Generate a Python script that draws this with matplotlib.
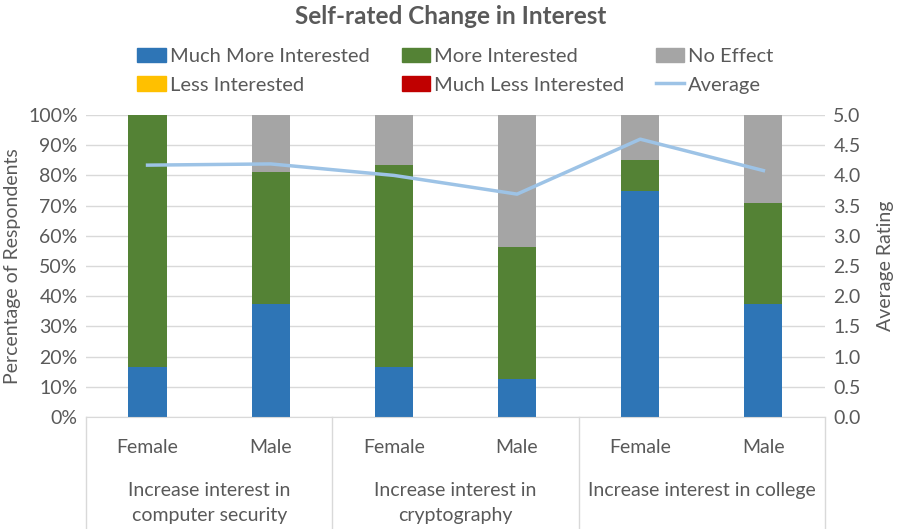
import numpy as np
import matplotlib.pyplot as plt
from matplotlib.patches import Patch
from matplotlib.lines import Line2D

# ---------------------------------- data ----------------------------------
genders = ["Female", "Male", "Female", "Male", "Female", "Male"]
groups = ["Increase interest in\ncomputer security",
          "Increase interest in\ncryptography",
          "Increase interest in college"]
much_more = [16.7, 37.5, 16.7, 12.5, 75.0, 37.5]
more = [83.3, 43.75, 66.6, 43.75, 10.0, 33.3]
no_effect = [0.0, 18.75, 16.7, 43.75, 15.0, 29.2]
less = [0, 0, 0, 0, 0, 0]
much_less = [0, 0, 0, 0, 0, 0]
average = [4.17, 4.19, 4.0, 3.69, 4.6, 4.08]

series = [("Much More Interested", much_more, "#2E75B6"),
          ("More Interested", more, "#548235"),
          ("No Effect", no_effect, "#A5A5A5"),
          ("Less Interested", less, "#FFC000"),
          ("Much Less Interested", much_less, "#C00000")]
# --------------------------------------------------------------------------

plt.rcParams["font.family"] = ["Lato", "DejaVu Sans"]
txt = "#595959"
fs = 14

fig = plt.figure(figsize=(9.02, 5.29), dpi=100)
ax = fig.add_axes([0.0953, 0.2117, 0.8193, 0.5709])
x = np.arange(len(genders))

bottom = np.zeros(len(genders))
for name, vals, col in series:
    ax.bar(x, vals, bottom=bottom, width=0.31, color=col, zorder=2)
    bottom += np.array(vals)

ax.set_ylim(0, 100)
ax.set_xlim(-0.5, len(genders) - 0.5)
ax.set_yticks(np.arange(0, 101, 10))
ax.set_yticklabels([f"{v}%" for v in range(0, 101, 10)])
ax.grid(axis="y", color="#d9d9d9", linewidth=1, zorder=0)
ax.set_xticks(x)
ax.set_xticklabels(genders)
ax.tick_params(length=0, labelsize=fs, colors=txt)
ax.tick_params(axis="x", pad=16)
ax.tick_params(axis="y", pad=6)
for s in ["top", "left", "right"]:
    ax.spines[s].set_visible(False)
ax.spines["bottom"].set_color("#d9d9d9")
ax.set_ylabel("Percentage of Respondents", fontsize=fs, color=txt, labelpad=5)

ax2 = ax.twinx()
ax2.plot(x, average, color="#9DC3E6", linewidth=2.5, zorder=3)
ax2.set_ylim(0, 5)
ax2.set_yticks(np.arange(0, 5.01, 0.5))
ax2.set_yticklabels([f"{v:.1f}" for v in np.arange(0, 5.01, 0.5)])
ax2.tick_params(length=0, labelsize=fs, colors=txt, pad=6)
for s in ax2.spines.values():
    s.set_visible(False)
ax2.set_ylabel("Average Rating", fontsize=fs, color=txt, labelpad=12)

# multi-level category axis
tr = ax.get_xaxis_transform()
for sep in [-0.5, 1.5, 3.5, 5.5]:
    ax.plot([sep, sep], [0, -0.37], transform=tr, color="#d9d9d9",
            linewidth=1, clip_on=False)
for i, g in enumerate(groups):
    ax.text(2 * i + 0.5, -0.215, g, transform=tr, ha="center", va="top",
            fontsize=fs, color=txt, linespacing=1.55)

fig.text(0.5, 0.968, "Self-rated Change in Interest", ha="center",
         va="center", fontsize=17.5, fontweight="bold", color=txt)

# legend, column-wise order for 3 columns
h = {name: Patch(color=col) for name, _, col in series}
h["Average"] = Line2D([], [], color="#9DC3E6", linewidth=2.5)
order = ["Much More Interested", "Less Interested", "More Interested",
         "Much Less Interested", "No Effect", "Average"]
fig.legend([h[k] for k in order], order, ncol=3, loc="center",
           bbox_to_anchor=(0.505, 0.866), frameon=False, fontsize=14.5,
           labelcolor=txt, handlelength=1.4, handleheight=0.7,
           handletextpad=0.2, columnspacing=1.6, labelspacing=0.55)

fig.savefig("out.png", dpi=100)
